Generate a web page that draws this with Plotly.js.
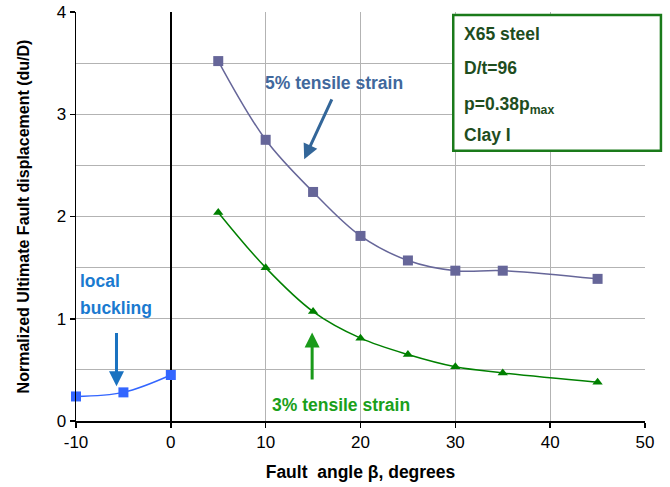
<!DOCTYPE html>
<html>
<head>
<meta charset="utf-8">
<script src="https://cdn.plot.ly/plotly-3.0.1.min.js"></script>
<style>html,body{margin:0;padding:0;background:#fff;}#chart{width:670px;height:487px;}</style>
</head>
<body>
<div id="chart"></div>
<script>
// Local buckling series
const angleBuckling = [-10, -5, 0];
const dispBuckling = [0.24, 0.28, 0.45];
// 5% tensile strain series
const angle5 = [5, 10, 15, 20, 25, 30, 35, 45];
const disp5 = [3.52, 2.75, 2.24, 1.81, 1.57, 1.47, 1.47, 1.39];
// 3% tensile strain series
const angle3 = [5, 10, 15, 20, 25, 30, 35, 45];
const disp3 = [2.04, 1.50, 1.07, 0.81, 0.65, 0.53, 0.47, 0.38];
// Axis ticks
const xTicks = [-10, 0, 10, 20, 30, 40, 50];
const yTicks = [0, 1, 2, 3, 4];

const font = 'Liberation Sans, Arial, sans-serif';

const traces = [
  {x: angleBuckling, y: dispBuckling, mode: 'lines+markers', line: {color: '#3366FF', width: 1.5, shape: 'spline'},
   marker: {symbol: 'square', size: 10, color: '#3366FF'}, cliponaxis: false, showlegend: false},
  {x: angle5, y: disp5, mode: 'lines+markers', line: {color: '#666699', width: 1.5, shape: 'spline'},
   marker: {symbol: 'square', size: 10, color: '#666699'}, cliponaxis: false, showlegend: false},
  {x: angle3, y: disp3, mode: 'lines+markers', line: {color: '#008000', width: 1.5, shape: 'spline'},
   marker: {symbol: 'triangle-up', size: 9, color: '#008000'}, cliponaxis: false, showlegend: false}
];

const boxText = '#1E4D1E';
const annSize = 17.5;
const layout = {
  width: 670, height: 487,
  margin: {l: 76, r: 25, t: 12, b: 65.5},
  paper_bgcolor: '#fff', plot_bgcolor: '#fff',
  font: {family: font, color: '#000', size: 17},
  xaxis: {
    range: [-10, 50], tickvals: xTicks, ticktext: xTicks.map(String),
    showgrid: true, gridcolor: '#B3B3B3', gridwidth: 1,
    zeroline: true, zerolinecolor: '#000', zerolinewidth: 1.8,
    showline: true, linecolor: '#000', linewidth: 1.5,
    ticks: 'outside', ticklen: 5, tickcolor: '#000', tickwidth: 1.5,
    tickfont: {size: 17, family: font},
    title: {text: 'Fault\u00a0 angle β, degrees', font: {size: 17.5, family: font, weight: 'bold'}, standoff: 15}
  },
  yaxis: {
    range: [0, 4], tickvals: yTicks, ticktext: yTicks.map(String),
    showgrid: true, gridcolor: '#B3B3B3', gridwidth: 1,
    minor: {dtick: 0.5, showgrid: true, gridcolor: '#B3B3B3', gridwidth: 1, ticks: ''},
    zeroline: false,
    showline: true, linecolor: '#000', linewidth: 1.5,
    ticks: 'outside', ticklen: 5, tickcolor: '#000', tickwidth: 1.5,
    tickfont: {size: 17, family: font},
    title: {text: 'Normalized Ultimate Fault displacement (du/D)', font: {size: 16, family: font, weight: 'bold'}, standoff: 23}
  },
  shapes: [
    {type: 'rect', xref: 'paper', yref: 'paper', x0: 0.663, x1: 1.028, y0: 0.6606, y1: 0.9927,
     line: {color: '#1A7A1A', width: 2.5}, fillcolor: '#fff', layer: 'above'}
  ],
  annotations: [
    {xref: 'paper', yref: 'paper', x: 0.679, y: 0.945, xanchor: 'left', yanchor: 'middle', showarrow: false,
     text: '<b>X65 steel</b>', font: {size: annSize, color: boxText, family: font}},
    {xref: 'paper', yref: 'paper', x: 0.679, y: 0.862, xanchor: 'left', yanchor: 'middle', showarrow: false,
     text: '<b>D/t=96</b>', font: {size: annSize, color: boxText, family: font}},
    {xref: 'paper', yref: 'paper', x: 0.679, y: 0.772, xanchor: 'left', yanchor: 'middle', showarrow: false,
     text: '<b>p=0.38p<sub>max</sub></b>', font: {size: annSize, color: boxText, family: font}},
    {xref: 'paper', yref: 'paper', x: 0.679, y: 0.700, xanchor: 'left', yanchor: 'middle', showarrow: false,
     text: '<b>Clay I</b>', font: {size: annSize, color: boxText, family: font}},

    {x: 17.2, y: 3.31, xanchor: 'center', yanchor: 'middle', showarrow: false,
     text: '<b>5% tensile strain</b>', font: {size: annSize, color: '#41689C', family: font}},
    {x: 14.06, y: 2.56, ax: 17.05, ay: 3.16, axref: 'x', ayref: 'y', text: '', showarrow: true,
     arrowhead: 2, arrowsize: 1, arrowwidth: 3, arrowcolor: '#336699', standoff: 0},

    {x: 17.9, y: 0.16, xanchor: 'center', yanchor: 'middle', showarrow: false,
     text: '<b>3% tensile strain</b>', font: {size: annSize, color: '#1AA01A', family: font}},
    {x: 14.9, y: 0.865, ax: 14.9, ay: 0.39, axref: 'x', ayref: 'y', text: '', showarrow: true,
     arrowhead: 2, arrowsize: 1, arrowwidth: 3, arrowcolor: '#1A9A1A', standoff: 0},

    {x: -9.75, y: 1.372, xanchor: 'left', yanchor: 'middle', showarrow: false,
     text: '<b>local</b>', font: {size: annSize, color: '#1A7AD0', family: font}},
    {x: -9.75, y: 1.106, xanchor: 'left', yanchor: 'middle', showarrow: false,
     text: '<b>buckling</b>', font: {size: annSize, color: '#1A7AD0', family: font}},
    {x: -5.73, y: 0.339, ax: -5.73, ay: 0.875, axref: 'x', ayref: 'y', text: '', showarrow: true,
     arrowhead: 2, arrowsize: 1, arrowwidth: 3, arrowcolor: '#1A72C0', standoff: 0}
  ]
};

Plotly.newPlot('chart', traces, layout, {displayModeBar: false, staticPlot: true});
</script>
</body>
</html>
